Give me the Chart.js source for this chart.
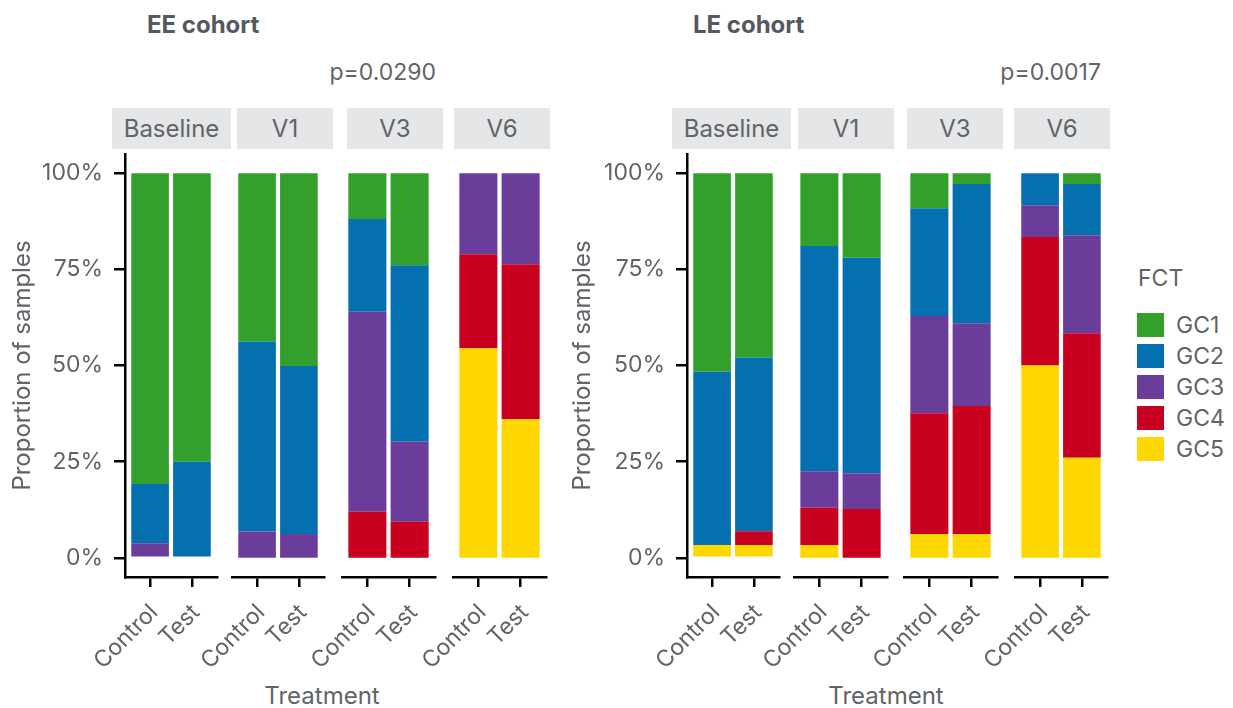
<!DOCTYPE html>
<html><head><meta charset="utf-8">
<script src="https://cdn.jsdelivr.net/npm/chart.js@4/dist/chart.umd.min.js"></script>
<style>
body{margin:0;background:#fff;width:1233px;height:708px;overflow:hidden;font-family:Inter,sans-serif;}
#wrap{position:relative;width:1233px;height:708px;}
canvas{position:absolute;}
.txt{position:absolute;white-space:nowrap;color:#606469;}
.strip{position:absolute;background:#e5e6e8;color:#606469;font-size:24px;display:flex;align-items:center;justify-content:center;}
.lbox{position:absolute;}
</style></head><body><div id="wrap"></div>
<script>
// ---- data ----
const cohorts = ['EE cohort', 'LE cohort'];
const pValues = ['p=0.0290', 'p=0.0017'];
const visits = ['Baseline', 'V1', 'V3', 'V6'];
const treatments = ['Control', 'Test'];
const fctLevels = ['GC1', 'GC2', 'GC3', 'GC4', 'GC5'];
const fctColors = ['#33a02c', '#0570b0', '#6a3d9a', '#ca0020', '#ffd700'];
const yTicks = [0, 25, 50, 75, 100];
// order of each array: Baseline-Control, Baseline-Test, V1-Control, V1-Test, V3-Control, V3-Test, V6-Control, V6-Test (percent)
const ee_GC1 = [80.8, 75.0, 43.8, 50.1, 11.9, 23.9, 0, 0];
const ee_GC2 = [15.4, 25.0, 49.4, 43.7, 24.1, 45.9, 0, 0];
const ee_GC3 = [3.8, 0, 6.8, 6.2, 52.0, 20.8, 21.1, 23.7];
const ee_GC4 = [0, 0, 0, 0, 12.0, 9.4, 24.4, 40.3];
const ee_GC5 = [0, 0, 0, 0, 0, 0, 54.5, 36.0];
const le_GC1 = [51.6, 48.0, 18.9, 22.0, 9.1, 2.8, 0, 2.8];
const le_GC2 = [45.1, 45.1, 58.6, 56.0, 28.0, 36.2, 8.3, 13.3];
const le_GC3 = [0, 0, 9.5, 9.3, 25.3, 21.5, 8.3, 25.5];
const le_GC4 = [0, 3.6, 9.7, 12.7, 31.4, 33.3, 33.4, 32.4];
const le_GC5 = [3.3, 3.3, 3.3, 0, 6.2, 6.2, 50.0, 26.0];
const cohortData = [
  [ee_GC1, ee_GC2, ee_GC3, ee_GC4, ee_GC5],
  [le_GC1, le_GC2, le_GC3, le_GC4, le_GC5]
];

// ---- layout (positions only) ----
const TXT = '#606469';
const layout = [
  { left: 0, titleX: 147, pRight: 436, treatX: 322,
    axes: [[125, 217], [232, 324], [342, 435], [453, 546]],
    strips: [[112, 231], [237, 333], [347, 443], [454, 550]] },
  { left: 560, titleX: 693, pRight: 1101, treatX: 886,
    axes: [[687, 779], [794, 887], [904, 997], [1015, 1107]],
    strips: [[672, 791], [798, 894], [907, 1003], [1014, 1110]] }
];
const AREA_TOP = 154, AREA_BOTTOM = 577, CANVAS_TOP = 104, CANVAS_H = 604;

Chart.defaults.font.family = 'Inter, sans-serif';
Chart.defaults.color = TXT;
Chart.defaults.animation = false;

const wrap = document.getElementById('wrap');
function addText(text, x, cy, size, opts) {
  const d = document.createElement('div');
  d.className = 'txt';
  d.textContent = text;
  d.style.fontSize = size + 'px';
  d.style.lineHeight = size + 'px';
  d.style.top = (cy - size / 2) + 'px';
  if (opts && opts.bold) { d.style.fontWeight = '700'; d.style.color = '#55595f'; }
  if (opts && opts.align === 'right') { d.style.right = (1233 - x) + 'px'; }
  else if (opts && opts.align === 'center') { d.style.left = x + 'px'; d.style.transform = 'translateX(-50%)'; }
  else d.style.left = x + 'px';
  wrap.appendChild(d);
}

cohorts.forEach((cname, ci) => {
  const L = layout[ci];
  addText(cname, L.titleX, 25, 24, { bold: true });
  addText(pValues[ci], L.pRight, 72, 23, { align: 'right' });
  addText('Treatment', L.treatX, 696, 24, { align: 'center' });
  visits.forEach((v, vi) => {
    const [axL, axR] = L.axes[vi];
    const first = vi === 0;
    const cLeft = first ? L.left : axL - 80;
    const cW = axR + 20 - cLeft;
    const cv = document.createElement('canvas');
    cv.width = cW; cv.height = CANVAS_H;
    cv.style.left = cLeft + 'px'; cv.style.top = CANVAS_TOP + 'px';
    cv.style.width = cW + 'px'; cv.style.height = CANVAS_H + 'px';
    wrap.appendChild(cv);
    // datasets bottom-to-top: GC5 ... GC1
    const datasets = [];
    for (let k = fctLevels.length - 1; k >= 0; k--) {
      const arr = cohortData[ci][k];
      datasets.push({
        label: fctLevels[k],
        data: treatments.map((t, ti) => ({ x: ti + 1, y: arr[vi * 2 + ti] })),
        backgroundColor: fctColors[k],
        borderWidth: 0,
        barPercentage: 0.9,
        categoryPercentage: 1.0
      });
    }
    new Chart(cv, {
      type: 'bar',
      data: { datasets },
      options: {
        responsive: false,
        animation: false,
        layout: { padding: { left: first ? 0 : 80, right: 20, top: AREA_TOP - CANVAS_TOP, bottom: 0 } },
        plugins: { legend: { display: false }, tooltip: { enabled: false } },
        scales: {
          x: {
            type: 'linear', stacked: true, min: 0.4, max: 2.6, offset: false,
            afterBuildTicks: s => { s.ticks = treatments.map((t, i) => ({ value: i + 1 })); },
            afterFit: s => { s.height = CANVAS_H - (AREA_TOP - CANVAS_TOP) - (AREA_BOTTOM - AREA_TOP); },
            ticks: { callback: val => treatments[val - 1], minRotation: 45, maxRotation: 45, autoSkip: false,
                     font: { size: 23 }, color: TXT, padding: 12, labelOffset: 4 },
            grid: { offset: false, drawOnChartArea: false, drawTicks: true, tickLength: 10, color: '#000', lineWidth: 2.5 },
            border: { display: true, color: '#000', width: 2.5 }
          },
          y: {
            type: 'linear', stacked: true, min: -5, max: 105, display: first,
            afterBuildTicks: s => { s.ticks = yTicks.map(t => ({ value: t })); },
            afterFit: s => { if (first) s.width = axL - cLeft; },
            ticks: { callback: val => val + '%', font: { size: 23 }, color: TXT, padding: 11 },
            grid: { drawOnChartArea: false, drawTicks: true, tickLength: 11, color: '#000', lineWidth: 2.5 },
            border: { display: true, color: '#000', width: 2.5 },
            title: { display: true, text: 'Proportion of samples', font: { size: 24 }, color: TXT, padding: { top: 8, bottom: 0 } }
          }
        }
      }
    });
    const [sL, sR] = L.strips[vi];
    const s = document.createElement('div');
    s.className = 'strip';
    s.textContent = v;
    s.style.left = sL + 'px'; s.style.width = (sR - sL) + 'px';
    s.style.top = '108px'; s.style.height = '41px';
    wrap.appendChild(s);
  });
});

// legend
addText('FCT', 1138, 278, 23);
fctLevels.forEach((g, i) => {
  const y = 313 + i * 31;
  const b = document.createElement('div');
  b.className = 'lbox';
  b.style.left = '1137px'; b.style.top = y + 'px';
  b.style.width = '27px'; b.style.height = '24px';
  b.style.background = fctColors[i];
  wrap.appendChild(b);
  addText(g, 1176, y + 12, 23);
});
</script>
</body></html>
